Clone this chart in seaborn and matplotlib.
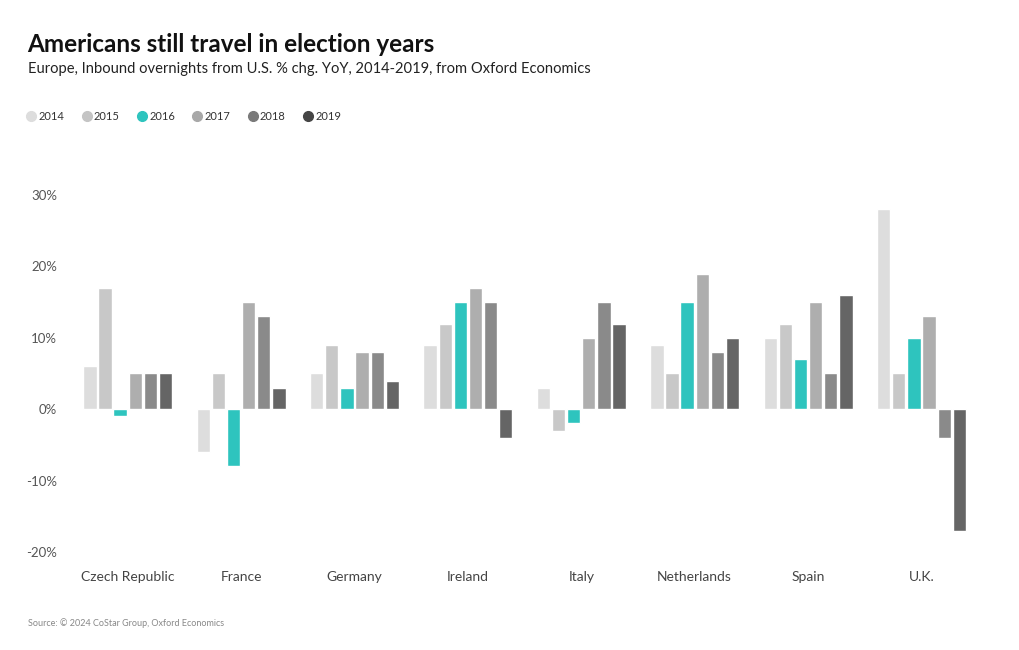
import pandas as pd
import matplotlib.pyplot as plt
import seaborn as sns
from matplotlib.lines import Line2D
from matplotlib.ticker import FuncFormatter

# chart data
countries = ['Czech Republic', 'France', 'Germany', 'Ireland', 'Italy',
             'Netherlands', 'Spain', 'U.K.']
years = ['2014', '2015', '2016', '2017', '2018', '2019']
values = {
    '2014': [6, -6, 5, 9, 3, 9, 10, 28],
    '2015': [17, 5, 9, 12, -3, 5, 12, 5],
    '2016': [-1, -8, 3, 15, -2, 15, 7, 10],
    '2017': [5, 15, 8, 17, 10, 19, 15, 13],
    '2018': [5, 13, 8, 15, 15, 8, 5, -4],
    '2019': [5, 3, 4, -4, 12, 10, 16, -17],
}
colors = ['#dddddd', '#c8c8c8', '#2ec4be', '#aeaeae', '#8a8a8a', '#656565']
legend_colors = ['#dddddd', '#c4c4c4', '#2ec4be', '#a8a8a8', '#7a7a7a', '#454545']
yticks = [-20, -10, 0, 10, 20, 30]

# long table for seaborn
rows = []
for y in years:
    for c, v in zip(countries, values[y]):
        rows.append({'country': c, 'year': y, 'value': v})
df = pd.DataFrame(rows)

sns.set_style('white')
plt.rcParams['font.family'] = ['Lato', 'DejaVu Sans']

fig = plt.figure(figsize=(10.2, 6.5), dpi=100)
ax = fig.add_axes([0.0696, 0.1508, 0.8894, 0.5492])

sns.barplot(data=df, x='country', y='value', hue='year', order=countries,
            hue_order=years, palette=colors, width=0.8, gap=0.12,
            saturation=1, ax=ax, legend=False)

ax.set_ylim(-20, 30)
ax.set_yticks(yticks)
ax.yaxis.set_major_formatter(FuncFormatter(lambda v, p: f'{v:.0f}%'))
ax.set_xlabel('')
ax.set_ylabel('')
sns.despine(ax=ax, left=True, bottom=True)
ax.tick_params(axis='y', length=0, labelsize=9.5, labelcolor='#555555', pad=10)
ax.tick_params(axis='x', length=0, labelsize=10, labelcolor='#444444', pad=14)

fig.text(0.027, 0.932, 'Americans still travel in election years',
         fontsize=17.5, fontweight='bold', color='#111111', va='center')
fig.text(0.027, 0.894, 'Europe, Inbound overnights from U.S. % chg. YoY, 2014-2019, from Oxford Economics',
         fontsize=10.6, color='#222222', va='center')
fig.text(0.027, 0.042, 'Source: \u00a9 2024 CoStar Group, Oxford Economics',
         fontsize=6.5, color='#888888', va='center')

handles = [Line2D([], [], marker='o', linestyle='', markersize=7,
                  markerfacecolor=c, markeredgecolor=c) for c in legend_colors]
fig.legend(handles, years, loc='center left', bbox_to_anchor=(0.0155, 0.821),
           ncol=6, frameon=False, fontsize=8, handletextpad=0.15,
           columnspacing=1.5, handlelength=1.0, labelcolor='#333333')

fig.savefig('out.png', dpi=100)
